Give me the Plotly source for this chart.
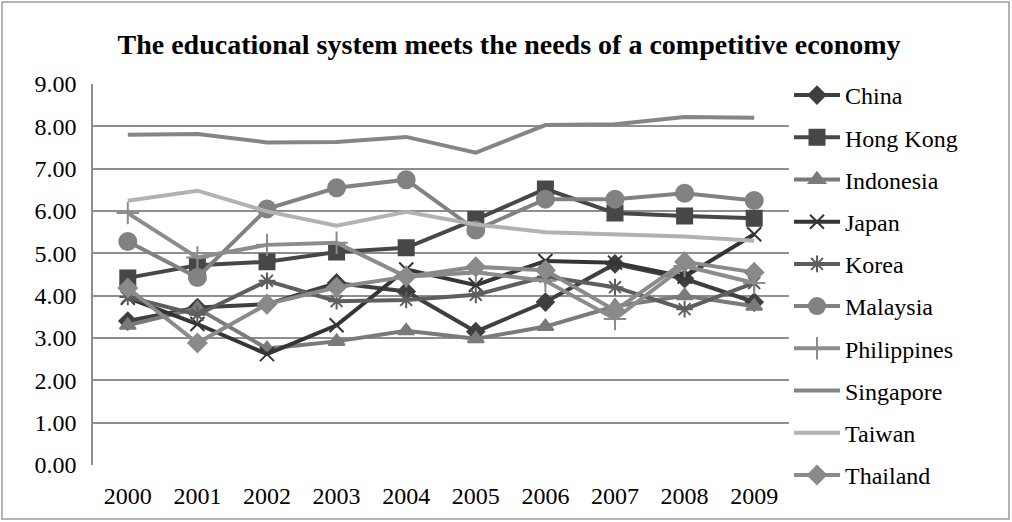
import plotly.graph_objects as go

years = ["2000", "2001", "2002", "2003", "2004", "2005", "2006", "2007", "2008", "2009"]

china = [3.40, 3.72, 3.80, 4.30, 4.10, 3.15, 3.85, 4.75, 4.40, 3.85]
hong_kong = [4.42, 4.72, 4.80, 5.03, 5.13, 5.80, 6.52, 5.95, 5.88, 5.83]
indonesia = [3.30, 3.70, 2.75, 2.92, 3.17, 2.98, 3.27, 3.75, 4.00, 3.75]
japan = [3.95, 3.33, 2.62, 3.30, 4.62, 4.25, 4.82, 4.78, 4.45, 5.45]
korea = [3.97, 3.55, 4.35, 3.87, 3.90, 4.02, 4.45, 4.20, 3.68, 4.30]
malaysia = [5.28, 4.43, 6.05, 6.55, 6.74, 5.55, 6.28, 6.28, 6.42, 6.25]
philippines = [5.95, 4.90, 5.20, 5.25, 4.45, 4.55, 4.35, 3.45, 4.70, 4.30]
singapore = [7.80, 7.82, 7.62, 7.63, 7.75, 7.38, 8.03, 8.05, 8.22, 8.20]
taiwan = [6.24, 6.48, 5.99, 5.65, 5.98, 5.68, 5.50, 5.45, 5.40, 5.30]
thailand = [4.18, 2.88, 3.80, 4.20, 4.45, 4.68, 4.60, 3.65, 4.80, 4.55]

y_ticks = [0, 1, 2, 3, 4, 5, 6, 7, 8, 9]

series = [
    ("China", china, "#3f3f3f", "diamond", 13),
    ("Hong Kong", hong_kong, "#474747", "square", 15),
    ("Indonesia", indonesia, "#7a7a7a", "triangle-up", 14),
    ("Japan", japan, "#353535", "x-thin-open", 14),
    ("Korea", korea, "#5e5e5e", "asterisk-open", 14),
    ("Malaysia", malaysia, "#828282", "circle", 17),
    ("Philippines", philippines, "#8c8c8c", "cross-thin-open", 16),
    ("Singapore", singapore, "#858585", None, 0),
    ("Taiwan", taiwan, "#b2b2b2", None, 0),
    ("Thailand", thailand, "#8a8a8a", "diamond", 14),
]

fig = go.Figure()
for i, (name, vals, col, sym, sz) in enumerate(series):
    if sym is None:
        mode = "lines"
        marker = None
    else:
        mode = "lines+markers"
        marker = dict(symbol=sym, size=sz, color=col, line=dict(color=col, width=2))
    fig.add_trace(go.Scatter(
        x=years, y=vals, name=name, mode=mode,
        line=dict(color=col, width=4),
        marker=marker, legendgroup=f"g{i}",
    ))

L, T = 93, 84
W, H = 696, 381
FS = 24
fig.update_layout(
    width=1012, height=522,
    margin=dict(l=L, r=1012 - L - W, t=T, b=522 - T - H),
    paper_bgcolor="white", plot_bgcolor="white",
    font=dict(family="Liberation Serif", size=FS, color="black"),
    title=dict(text="<b>The educational system meets the needs of a competitive economy</b>",
               x=509 / 1012, xanchor="center", y=1 - 44 / 522, yanchor="middle",
               font=dict(family="Liberation Serif", size=28, color="black")),
    xaxis=dict(type="category", showgrid=False, showline=False, ticks="",
               tickfont=dict(size=FS), range=[-0.5, 9.5], ticklabelstandoff=14),
    yaxis=dict(range=[0, 9], tickvals=y_ticks, tickformat=".2f",
               showgrid=True, gridcolor="#8f8f8f", gridwidth=1.5,
               showline=True, linecolor="#8f8f8f", linewidth=1.5,
               zeroline=False, ticks="", ticklen=0, tickfont=dict(size=FS),
               ticklabelstandoff=10),
    legend=dict(x=1.0, xanchor="left", y=1 - (73 - T) / H, yanchor="top",
                font=dict(size=FS), tracegroupgap=8, itemwidth=46,
                maxheight=460, bgcolor="rgba(0,0,0,0)"),
    showlegend=True,
)

fig.add_shape(type="rect", xref="paper", yref="paper",
              x0=(2 - L) / W, x1=(1009 - L) / W,
              y0=(T + H - 519) / H, y1=(T + H - 2) / H,
              line=dict(color="#9a9a9a", width=1.5), fillcolor="rgba(0,0,0,0)", layer="below")

fig.write_html("out.html")
